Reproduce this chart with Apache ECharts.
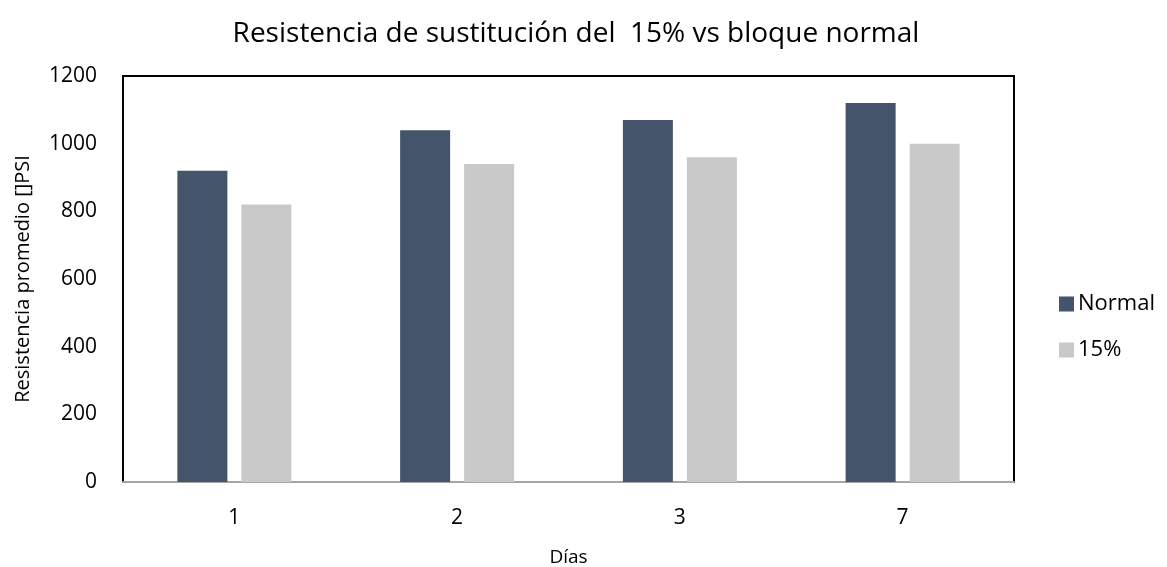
<!DOCTYPE html>
<html>
<head>
<meta charset="utf-8">
<script src="https://cdn.jsdelivr.net/npm/echarts@6/dist/echarts.min.js"></script>
<style>
  html, body { margin: 0; padding: 0; background: #fff; }
  #chart { width: 1167px; height: 567px; }
</style>
</head>
<body>
<div id="chart"></div>
<script>
// Curing days and average strength for each block type
const dias = ['1', '2', '3', '7'];
const normal = [920, 1040, 1070, 1120];
const sustitucion15 = [820, 940, 960, 1000];
const yTicks = { min: 0, max: 1200, interval: 200 };

const FONT = '"Open Sans", "Liberation Sans", sans-serif';

const chart = echarts.init(document.getElementById('chart'), null, { renderer: 'canvas' });
chart.setOption({
  backgroundColor: '#ffffff',
  animation: false,
  title: {
    text: 'Resistencia de sustitución del  15% vs bloque normal',
    left: 571,
    textAlign: 'center',
    top: 15,
    textStyle: { fontFamily: FONT, fontSize: 28, fontWeight: 'normal', color: '#000' }
  },
  legend: {
    orient: 'vertical',
    left: 1054,
    top: 288,
    itemGap: 24,
    itemWidth: 15,
    itemHeight: 15,
    icon: 'rect',
    textStyle: { fontFamily: FONT, fontSize: 22, color: '#000', padding: [0, 0, 0, -1] },
    data: ['Normal', '15%']
  },
  grid: {
    left: 123, top: 76, width: 891, height: 406,
    outerBoundsMode: 'none',
    containLabel: false,
    show: true,
    borderColor: '#000',
    borderWidth: 2,
    backgroundColor: '#fff'
  },
  xAxis: {
    type: 'category',
    data: dias,
    name: 'Días',
    nameLocation: 'middle',
    nameGap: 66,
    nameTextStyle: { fontFamily: FONT, fontSize: 19, color: '#000' },
    axisLine: { show: true, lineStyle: { color: '#a6a6a6', width: 2 } },
    axisTick: { show: false },
    axisLabel: { fontFamily: FONT, fontSize: 21, color: '#000', margin: 26 },
    splitLine: { show: false }
  },
  yAxis: {
    type: 'value',
    min: yTicks.min,
    max: yTicks.max,
    interval: yTicks.interval,
    name: 'Resistencia promedio []PSI',
    nameLocation: 'middle',
    nameGap: 90,
    nameTextStyle: { fontFamily: FONT, fontSize: 20, color: '#000' },
    axisLine: { show: false },
    axisTick: { show: false },
    axisLabel: { fontFamily: FONT, fontSize: 21, color: '#000', margin: 26, formatter: v => String(v) },
    splitLine: { show: false }
  },
  series: [
    {
      name: 'Normal',
      type: 'bar',
      data: normal,
      barWidth: 50,
      barGap: '28%',
      itemStyle: { color: '#44546A' }
    },
    {
      name: '15%',
      type: 'bar',
      data: sustitucion15,
      barWidth: 50,
      itemStyle: { color: '#C9C9C9' }
    }
  ]
});
</script>
</body>
</html>
